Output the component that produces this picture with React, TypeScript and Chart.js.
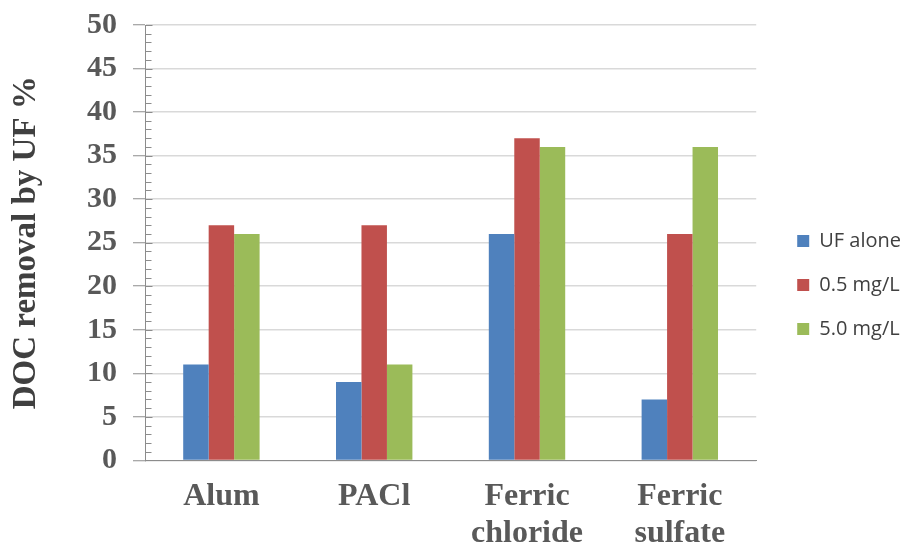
import React, { useEffect, useRef } from "react";
import { Chart, registerables } from "chart.js";

Chart.register(...registerables);

const categories: string[][] = [["Alum"], ["PACl"], ["Ferric", "chloride"], ["Ferric", "sulfate"]];
const seriesNames = ["UF alone", "0.5 mg/L", "5.0 mg/L"];
const ufAlone = [11, 9, 26, 7];
const dose05 = [27, 27, 37, 26];
const dose50 = [26, 11, 36, 36];
const seriesColors = ["#4F81BD", "#C0504D", "#9BBB59"];
const yMin = 0;
const yMax = 50;
const yMajorStep = 5;
const yMinorStep = 1;
const yTitle = "DOC removal by UF %";

const SERIF = "'Liberation Serif', 'Times New Roman', serif";

const minorTicksPlugin = {
  id: "minorTicks",
  afterDraw(chart: any) {
    const y = chart.scales.y;
    const ctx = chart.ctx;
    const x0 = Math.round(y.right) + 0.5;
    ctx.save();
    ctx.strokeStyle = "#8c8c8c";
    ctx.lineWidth = 1;
    for (let v = yMin; v <= yMax; v += yMinorStep) {
      const py = Math.round(y.getPixelForValue(v)) + 0.5;
      ctx.beginPath();
      ctx.moveTo(x0, py);
      ctx.lineTo(x0 + (v % yMajorStep === 0 ? 7 : 6), py);
      ctx.stroke();
    }
    ctx.restore();
  },
};

export default function App() {
  const ref = useRef<HTMLCanvasElement | null>(null);
  useEffect(() => {
    if (!ref.current) return;
    const data = [ufAlone, dose05, dose50];
    const chart = new Chart(ref.current, {
      type: "bar",
      data: {
        labels: categories,
        datasets: seriesNames.map((name, i) => ({
          label: name,
          data: data[i],
          backgroundColor: seriesColors[i],
          borderWidth: 0,
          barPercentage: 1,
          categoryPercentage: 0.5,
          yAxisID: "y",
        })),
      },
      options: {
        responsive: false,
        animation: false,
        layout: { padding: { top: 0, right: -9, left: 7, bottom: -24 } },
        plugins: {
          tooltip: { enabled: false },
          legend: {
            position: "right",
            labels: {
              boxWidth: 12,
              boxHeight: 12,
              padding: 24,
              color: "#404040",
              font: { family: "'Open Sans', 'Liberation Sans', sans-serif", size: 20 },
            },
          },
        },
        scales: {
          x: {
            grid: { display: false, drawTicks: false },
            border: { color: "#8c8c8c", width: 1 },
            ticks: {
              color: "#595959",
              padding: 18,
              maxRotation: 0,
              font: { family: SERIF, size: 32, weight: "bold", lineHeight: 1.15 },
            },
          },
          y: {
            min: yMin,
            max: yMax,
            afterFit: (s: any) => {
              s.width = 138;
            },
            ticks: {
              stepSize: yMajorStep,
              color: "#595959",
              padding: 16,
              font: { family: SERIF, size: 30, weight: "bold", lineHeight: 0.6 },
            },
            grid: {
              color: "#d9d9d9",
              lineWidth: 1.5,
              tickColor: "#8c8c8c",
              tickLength: 12,
              tickWidth: 1,
            },
            border: { color: "#8c8c8c", width: 1 },
            title: {
              display: true,
              text: yTitle,
              color: "#404040",
              padding: { top: 0, bottom: 0 },
              font: { family: SERIF, size: 33, weight: "bold" },
            },
          },
          gap: {
            type: "linear",
            position: "right",
            display: true,
            grid: { display: false, drawTicks: false },
            border: { display: false },
            ticks: { display: false },
            afterFit: (s: any) => {
              s.width = 17;
            },
          },
        },
      },
      plugins: [minorTicksPlugin],
    });
    return () => chart.destroy();
  }, []);
  return (
    <div style={{ position: "fixed", left: 0, top: 0, width: 902, height: 546, background: "#fff" }}>
      <canvas ref={ref} width={902} height={546} />
    </div>
  );
}
